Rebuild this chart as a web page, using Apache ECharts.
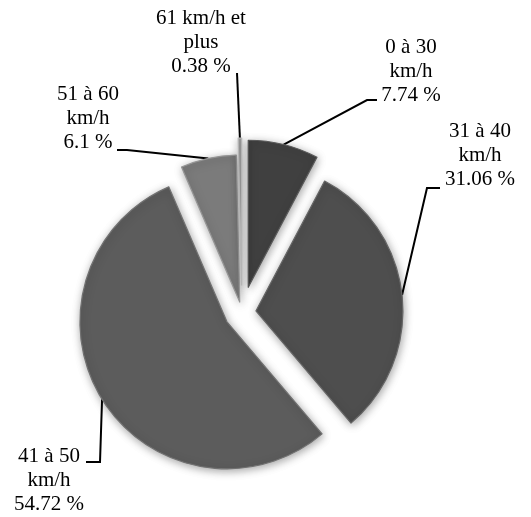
<!DOCTYPE html>
<html><head><meta charset="utf-8">
<script src="https://cdn.jsdelivr.net/npm/echarts@6/dist/echarts.min.js"></script>
<style>html,body{margin:0;padding:0;background:#fff}#c{width:531px;height:517px}</style>
</head><body><div id="c"></div>
<script>
// ---- data ----
const categories = ['0 à 30 km/h', '31 à 40 km/h', '41 à 50 km/h', '51 à 60 km/h', '61 km/h et plus'];
const labelTexts = [['0 à 30', 'km/h'], ['31 à 40', 'km/h'], ['41 à 50', 'km/h'], ['51 à 60', 'km/h'], ['61 km/h et', 'plus']];
const shares = [7.74, 31.06, 54.72, 6.1, 0.38];

// ---- style / layout ----
const colors = ['#404040', '#4e4e4e', '#5c5c5c', '#7b7b7b', '#9c9c9c'];
const edgeColors = ['#5a5a5a', '#666666', '#717171', '#959595', '#b5b5b5'];
const baseCenter = [242, 312.5];
const radius = 147;
const explode = [26, 14, 17.7, 10.7, 27.5];
const labelPos = [[411, 71], [480, 155], [49, 480], [88, 118], [201, 42]];
const leaderBends = [[[367, 100], [377, 100]], [[427, 188], [440, 188]], [[100, 462], [86, 462]], [[127, 150], [117, 150]], [[237, 73]]];
const serif = "'Liberation Serif', 'Times New Roman', 'DejaVu Serif', serif";

const total = shares.reduce((a, b) => a + b, 0);
let cum = 0;
const midDirs = shares.map(v => {
  const m = (cum + v / 2) / total * 2 * Math.PI;
  cum += v;
  return [Math.sin(m), -Math.cos(m)];
});
const centers = midDirs.map((d, i) => [baseCenter[0] + explode[i] * d[0], baseCenter[1] + explode[i] * d[1]]);

const chart = echarts.init(document.getElementById('c'), null, {renderer: 'canvas'});
const option = {
  animation: false,
  backgroundColor: '#ffffff',
  series: shares.map((_, k) => ({
    type: 'pie',
    radius: radius,
    center: centers[k],
    startAngle: 90,
    clockwise: true,
    avoidLabelOverlap: false,
    silent: true,
    emphasis: {disabled: true},
    z: 2,
    data: shares.map((v, i) => ({
      name: categories[i],
      value: v,
      itemStyle: i === k
        ? {color: colors[i], borderColor: edgeColors[i], borderWidth: 1.2, shadowBlur: 9, shadowOffsetX: 1, shadowOffsetY: 2, shadowColor: 'rgba(0,0,0,0.35)'}
        : {color: 'rgba(0,0,0,0)', borderWidth: 0, shadowBlur: 0},
      label: {show: i === k},
      labelLine: {show: i === k}
    })),
    label: {
      position: 'outside',
      formatter: p => labelTexts[p.dataIndex][0] + '\n' + labelTexts[p.dataIndex][1] + '\n' + shares[p.dataIndex] + ' %',
      fontFamily: serif,
      fontSize: 21,
      lineHeight: 24,
      color: '#000',
      align: 'center'
    },
    labelLine: {show: true, length: 10, length2: 10, lineStyle: {color: '#000', width: 2}},
    labelLayout: p => {
      if (p.dataIndex !== k) return {};
      const i = k;
      const start = [centers[i][0] + radius * midDirs[i][0], centers[i][1] + radius * midDirs[i][1]];
      const pts = [start].concat(leaderBends[i]);
      if (pts.length < 3) pts.push(pts[pts.length - 1]);
      return {x: labelPos[i][0], y: labelPos[i][1], align: 'center', verticalAlign: 'middle', labelLinePoints: pts};
    }
  }))
};
chart.setOption(option);
</script>
</body></html>
